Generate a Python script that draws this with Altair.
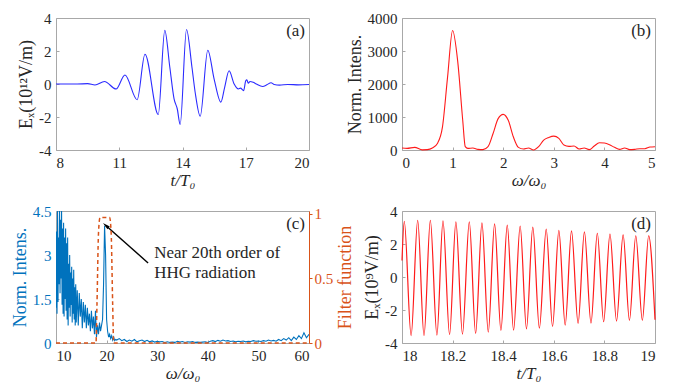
import altair as alt
import pandas as pd

# ---------------- data ----------------
# (a) driving field E_x (10^12 V/m) vs t/T0
a_t = [8.0, 9.0, 9.5, 9.85, 10.3, 10.85, 11.27, 11.85, 12.22, 12.85, 13.16, 13.4, 13.6,
       13.75, 13.89, 14.19, 14.45, 14.6, 14.84, 15.2, 15.5, 15.82, 16.0, 16.21, 16.45,
       16.65, 16.75, 16.9, 17.0, 17.05, 17.12, 17.2, 17.35, 17.5, 17.8, 18.0, 18.2,
       18.35, 18.6, 19.0, 19.5, 20.0]
a_e = [0.0, 0.0, 0.02, -0.06, 0.15, -0.3, 0.55, -0.95, 1.8, -1.85, 3.25, 1.0, -0.9,
       -1.5, -2.45, 3.3, 1.0, -0.5, -1.95, 2.05, 0.3, -1.1, -0.2, 0.8, 0.0,
       -0.3, -0.25, -0.4, 0.2, 0.25, 0.05, 0.15, 0.1, 0.0, -0.15, -0.05, 0.08,
       -0.03, -0.07, -0.03, -0.05, -0.03]

# (b) spectrum of the driving field
b_w = [0.0, 0.1, 0.25, 0.4, 0.5, 0.6, 0.7, 0.8, 0.9, 1.0, 1.1, 1.2, 1.25, 1.3, 1.4, 1.5,
       1.6, 1.7, 1.8, 1.9, 2.0, 2.1, 2.2, 2.3, 2.4, 2.5, 2.6, 2.7, 2.8, 2.9, 3.0, 3.1,
       3.2, 3.3, 3.4, 3.5, 3.6, 3.7, 3.8, 3.9, 4.0, 4.1, 4.2, 4.3, 4.4, 4.5, 4.6, 4.7,
       4.8, 4.9, 5.0]
b_i = [60, 50, 80, 5, 10, 60, 200, 700, 2200, 3620, 2700, 900, 100, 50, 60, 20,
       10, 100, 500, 950, 1080, 900, 400, 80, 30, 60, 0, 100, 300, 380, 420, 350,
       150, 110, 120, 30, 60, 10, 120, 220, 210, 160, 80, 20, 60, 10, 20, 40,
       40, 90, 100]

# (c) high-harmonic spectrum and filter function
c_w = [10.0, 10.1, 10.2, 10.3, 10.4, 10.5, 10.6, 10.7, 10.8, 10.9,
       11.0, 11.1, 11.2, 11.3, 11.4, 11.5, 11.6, 11.7, 11.8, 11.9,
       12.0, 12.1, 12.2, 12.3, 12.4, 12.5, 12.6, 12.7, 12.8, 12.9,
       13.0, 13.1, 13.2, 13.3, 13.4, 13.5, 13.6, 13.7, 13.8, 13.9,
       14.0, 14.2, 14.4, 14.6, 14.8, 15.0, 15.2, 15.4, 15.6, 15.8,
       16.0, 16.2, 16.4, 16.6, 16.8, 17.0, 17.2, 17.4, 17.6, 17.8,
       18.0, 18.2, 18.4, 18.6, 18.8, 19.0, 19.2, 19.4, 19.6, 19.8,
       20.0, 20.2, 20.4, 20.6, 20.8, 21.0, 21.2, 21.4, 21.6, 21.8, 22.0,
       22.5, 23.0, 23.5, 24.0, 24.5, 25.0, 25.5, 26.0, 26.5, 27.0, 27.5, 28.0,
       28.5, 29.0, 29.5, 30.0, 30.5, 31.0, 31.5, 32.0, 32.5, 33.0, 33.5, 34.0,
       34.5, 35.0, 35.5, 36.0, 36.5, 37.0, 37.5, 38.0, 38.5, 39.0, 39.5, 40.0,
       40.5, 41.0, 41.5, 42.0, 42.5, 43.0, 43.5, 44.0, 44.5, 45.0, 45.5, 46.0,
       46.5, 47.0, 47.5, 48.0, 48.5, 49.0, 49.5, 50.0, 50.5, 51.0, 51.5, 52.0,
       52.5, 53.0, 53.5, 54.0, 54.5, 55.0, 55.5, 56.0, 56.5, 57.0, 57.5, 58.0,
       58.5, 59.0, 59.5, 60.0]
c_i = [1.2, 3.8, 1.0, 4.5, 1.4, 3.6, 2.0, 4.6, 1.7, 4.2,
       2.2, 4.6, 1.3, 3.9, 1.0, 4.1, 0.9, 3.6, 1.5, 3.9,
       1.1, 3.4, 0.8, 3.6, 0.6, 2.7, 1.2, 3.0, 0.9, 2.4,
       1.3, 2.6, 0.7, 2.2, 1.0, 2.5, 0.8, 1.9, 0.6, 2.0,
       0.7, 1.8, 0.6, 1.7, 0.9, 1.5, 0.5, 1.4, 0.7, 1.3,
       0.5, 1.2, 0.6, 1.0, 0.4, 1.1, 0.5, 0.9, 0.3, 1.1,
       0.2, 0.6, 0.3, 0.7, 0.4, 0.6, 0.8, 2.0, 4.0, 3.0,
       0.8, 0.4, 0.2, 0.3, 0.15, 0.25, 0.1, 0.2, 0.08, 0.12, 0.1,
       0.15, 0.08, 0.12, 0.05, 0.1, 0.06, 0.12, 0.04, 0.08, 0.1, 0.05, 0.09,
       0.04, 0.07, 0.03, 0.06, 0.04, 0.05, 0.02, 0.04, 0.02, 0.03, 0.02, 0.06,
       0.03, 0.05, 0.02, 0.04, 0.03, 0.05, 0.02, 0.03, 0.02, 0.03, 0.04, 0.02,
       0.06, 0.08, 0.05, 0.09, 0.06, 0.1, 0.07, 0.08, 0.05, 0.07, 0.04, 0.06,
       0.05, 0.07, 0.04, 0.06, 0.05, 0.08, 0.06, 0.07, 0.05, 0.08, 0.06, 0.1,
       0.07, 0.09, 0.06, 0.12, 0.08, 0.15, 0.1, 0.18, 0.08, 0.2, 0.12, 0.25,
       0.15, 0.35, 0.18, 0.3]
f_w = [10.0, 17.9, 18.1, 18.4, 18.7, 20.6, 20.9, 21.2, 21.4, 60.0]
f_v = [0.0, 0.0, 0.3, 0.85, 0.97, 0.97, 0.85, 0.3, 0.0, 0.0]

# arrow and note of panel (c), in data units
arrow_w = [28.2, 19.9]
arrow_i = [2.73, 4.0]
note_w = [29.4, 29.4]
note_i = [3.07, 2.39]
note_txt = ["Near 20th order of", "HHG radiation"]

# (d) filtered field E_x (10^9 V/m) vs t/T0: start, alternating extremes, end
d_t = [18.000, 18.009, 18.036, 18.062, 18.087, 18.112, 18.138, 18.162, 18.188, 18.213,
       18.239, 18.266, 18.291, 18.316, 18.341, 18.366, 18.391, 18.416, 18.441, 18.467,
       18.492, 18.517, 18.543, 18.570, 18.595, 18.620, 18.645, 18.670, 18.696, 18.721,
       18.747, 18.772, 18.797, 18.822, 18.848, 18.874, 18.899, 18.924, 18.950, 18.975,
       19.000]
d_e = [1.0, 3.38, -3.56, 3.44, -3.56, 3.44, -3.52, 3.4, -3.5, 3.34,
       -3.46, 3.34, -3.42, 3.28, -3.34, 3.22, -3.24, 3.14, -3.22, 3.08,
       -3.14, 3.02, -3.1, 2.9, -3.0, 2.83, -2.92, 2.79, -2.81, 2.73,
       -2.8, 2.65, -2.71, 2.6, -2.67, 2.55, -2.63, 2.5, -2.63, 2.5,
       -2.59]

# ---------------- styling ----------------
FONT = "Liberation Serif"
TXT = "#262626"
BOX = "#a8a8a8"
BLUE_A = "#2b2bff"
RED = "#ff1a1a"
BLUE_C = "#0072BD"
ORANGE = "#D95319"
W, H = 253, 132
LBL = "'' + datum.value"


def xaxis(values, title):
    return alt.Axis(values=values, title=title, labelExpr=LBL, domain=False,
                    tickSize=3, offset=-3, tickColor=BOX, labelPadding=5,
                    titlePadding=2, titleFontSize=17, titleFontStyle="italic", grid=False)


def yaxis(values, title, color=TXT):
    return alt.Axis(values=values, title=title, labelExpr=LBL, domain=False,
                    tickSize=3, offset=-3, tickColor=BOX, labelPadding=5,
                    titlePadding=3, grid=False, labelColor=color, titleColor=color)


def panel_label(txt):
    return alt.Chart(pd.DataFrame({"t": [txt]})).mark_text(
        align="right", baseline="middle", font=FONT, fontSize=17, color=TXT
    ).encode(x=alt.value(W - 4), y=alt.value(13), text="t:N")


# (a)
dfa = pd.DataFrame({"t": a_t, "e": a_e})
line_a = alt.Chart(dfa).mark_line(color=BLUE_A, strokeWidth=1.1, interpolate="monotone").encode(
    x=alt.X("t:Q", scale=alt.Scale(domain=[8, 20], nice=False),
            axis=xaxis([8, 11, 14, 17, 20], "t/T₀")),
    y=alt.Y("e:Q", scale=alt.Scale(domain=[-4, 4], nice=False),
            axis=yaxis([-4, -2, 0, 2, 4], "Eₓ(10¹²V/m)")),
)
pa = alt.layer(line_a, panel_label("(a)")).properties(width=W, height=H)

# (b)
dfb = pd.DataFrame({"w": b_w, "i": b_i})
line_b = alt.Chart(dfb).mark_line(color=RED, strokeWidth=1.1, interpolate="monotone").encode(
    x=alt.X("w:Q", scale=alt.Scale(domain=[0, 5], nice=False),
            axis=xaxis([0, 1, 2, 3, 4, 5], "ω/ω₀")),
    y=alt.Y("i:Q", scale=alt.Scale(domain=[0, 4000], nice=False),
            axis=yaxis([0, 1000, 2000, 3000, 4000], "Norm. Intens.")),
)
pb = alt.layer(line_b, panel_label("(b)")).properties(width=W, height=H)

# (c)
xs_c = alt.Scale(domain=[10, 60], nice=False)
ys_c = alt.Scale(domain=[0, 4.5], nice=False)
xax_c = xaxis([10, 20, 30, 40, 50, 60], "ω/ω₀")
yax_c = yaxis([0, 1.5, 3, 4.5], "Norm. Intens.", BLUE_C)
dfc = pd.DataFrame({"w": c_w, "i": c_i})
dff = pd.DataFrame({"w": f_w, "f": f_v})
dfarrow = pd.DataFrame({"w": arrow_w, "i": arrow_i})
dfnote = pd.DataFrame({"w": note_w, "i": note_i, "t": note_txt})

enc_x = alt.X("w:Q", scale=xs_c, axis=xax_c)
enc_y = alt.Y("i:Q", scale=ys_c, axis=yax_c)
line_c = alt.Chart(dfc).mark_line(color=BLUE_C, strokeWidth=1.1, clip=True).encode(x=enc_x, y=enc_y)
arrow_c = alt.Chart(dfarrow).mark_line(color="black", strokeWidth=1.4).encode(x=enc_x, y=enc_y)
head_c = alt.Chart(dfarrow.tail(1)).mark_point(
    shape="M0,-1L0.42,0.8L-0.42,0.8Z", filled=True, color="black", opacity=1,
    size=70, angle=311.5
).encode(x=enc_x, y=enc_y)
note_c = alt.Chart(dfnote).mark_text(align="left", baseline="middle", font=FONT,
                                     fontSize=17, color=TXT).encode(x=enc_x, y=enc_y, text="t:N")
left_c = alt.layer(line_c, arrow_c, head_c, note_c, panel_label("(c)"))
filt_c = alt.Chart(dff).mark_line(color=ORANGE, strokeWidth=1.5, strokeDash=[4, 3],
                                  interpolate="monotone").encode(
    x=enc_x,
    y=alt.Y("f:Q", scale=alt.Scale(domain=[0, 1.02], nice=False),
            axis=alt.Axis(values=[0, 0.5, 1], title="Filter function", orient="right",
                          labelExpr=LBL, domainColor=ORANGE, tickColor=ORANGE,
                          tickSize=3, labelPadding=2, titlePadding=4, grid=False,
                          titleAngle=270, titleBaseline="top",
                          labelColor=ORANGE, titleColor=ORANGE)),
)
pc = alt.layer(left_c, filt_c).resolve_scale(y="independent").properties(width=W, height=H)

# (d)
dfd = pd.DataFrame({"t": d_t, "e": d_e})
line_d = alt.Chart(dfd).mark_line(color=RED, strokeWidth=1.2, interpolate="monotone").encode(
    x=alt.X("t:Q", scale=alt.Scale(domain=[18, 19], nice=False),
            axis=xaxis([18, 18.2, 18.4, 18.6, 18.8, 19], "t/T₀")),
    y=alt.Y("e:Q", scale=alt.Scale(domain=[-4, 4], nice=False),
            axis=yaxis([-4, -2, 0, 2, 4], "Eₓ(10⁹V/m)")),
)
pd_ = alt.layer(line_d, panel_label("(d)")).properties(width=W, height=H)

chart = alt.ConcatChart(
    concat=[pa, pb, pc, pd_], columns=2,
    spacing={"row": 61, "column": 93}, bounds="flush",
    padding={"left": 10, "top": 10, "right": 8, "bottom": 2},
    background="white",
).configure_view(stroke=BOX, strokeWidth=1).configure_axis(
    labelFont=FONT, titleFont=FONT, labelFontSize=15, titleFontSize=18,
    titleFontWeight="normal", labelColor=TXT, titleColor=TXT,
)

chart.save("out.html", embed_options={"renderer": "svg", "actions": False})
